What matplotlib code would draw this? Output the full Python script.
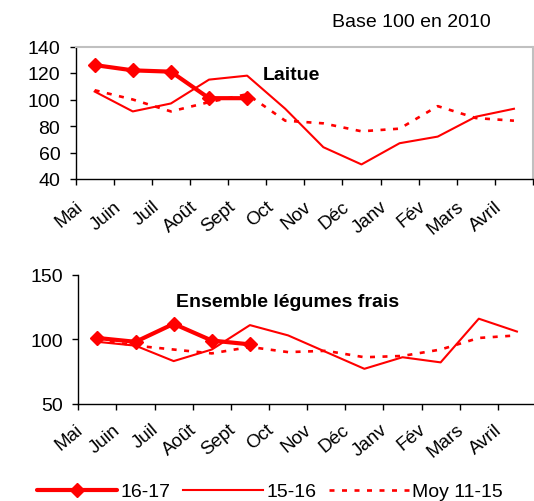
import matplotlib
matplotlib.use('Agg')
import matplotlib.pyplot as plt
import matplotlib.transforms as mtransforms
from matplotlib.lines import Line2D
import numpy as np

plt.rcParams['font.family'] = ['Liberation Sans', 'DejaVu Sans']
plt.rcParams['lines.scale_dashes'] = False

# ---------------- data ----------------
months = ['Mai', 'Juin', 'Juil', 'Août', 'Sept', 'Oct', 'Nov', 'Déc',
          'Janv', 'Fév', 'Mars', 'Avril']
series_names = ['16-17', '15-16', 'Moy 11-15']

laitue_1617 = [126, 122, 121, 101, 101]
laitue_1516 = [106, 91, 97, 115, 118, 93, 64, 51, 67, 72, 87, 93]
laitue_moy = [107, 100, 91, 98, 104, 84, 82, 76, 78, 95, 86, 84]

legumes_1617 = [101, 98, 112, 99, 96]
legumes_1516 = [98, 95, 83, 92, 111, 103, 90, 77, 86, 82, 116, 106]
legumes_moy = [100, 95, 92, 89, 94, 90, 91, 86, 87, 92, 101, 103]

laitue_yticks = [40, 60, 80, 100, 120, 140]
legumes_yticks = [50, 100, 150]

# ---------------- style ----------------
RED = '#FF0000'
W, H = 534, 502
FS = 14
FS_X = 13.5
fig = plt.figure(figsize=(W / 100, H / 100), dpi=100)


def ax_rect(x0, x1, ytop, ybot):
    return [x0 / W, 1 - ybot / H, (x1 - x0) / W, (ybot - ytop) / H]


ax1 = fig.add_axes(ax_rect(75.6, 533, 47.5, 180))
ax2 = fig.add_axes(ax_rect(78.3, 536, 276, 404.5))

thick = dict(color=RED, lw=3.0, marker='D', markersize=7, solid_capstyle='round',
             solid_joinstyle='round', zorder=5)
thin = dict(color=RED, lw=1.5, zorder=4)
dotted = dict(color=RED, lw=1.9, linestyle=(0, (3.6, 5.4)), zorder=3)


def draw(ax, s1617, s1516, smoy, yticks, gray_box, dx_lab, dy_lab):
    n = len(months)
    x = np.arange(n)
    ax.plot(x, smoy, **dotted)
    ax.plot(x, s1516, **thin)
    ax.plot(x[:len(s1617)], s1617, **thick)
    ax.set_xlim(-0.5, n - 0.5)
    ax.set_ylim(yticks[0], yticks[-1])
    ax.set_yticks(yticks)
    ax.set_xticks(np.arange(n + 1) - 0.5)
    ax.set_xticklabels([])
    ax.tick_params(axis='both', which='major', direction='out', length=4,
                   width=1, labelsize=FS, pad=7, colors='black')
    for s in ['left', 'bottom']:
        ax.spines[s].set_color('black')
        ax.spines[s].set_linewidth(1)
    if gray_box:
        for s in ['top', 'right']:
            ax.spines[s].set_color('#C0C0C0')
            ax.spines[s].set_linewidth(1.5)
    else:
        for s in ['top', 'right']:
            ax.spines[s].set_visible(False)
    trans = mtransforms.blended_transform_factory(ax.transData, ax.transAxes)
    off = mtransforms.ScaledTranslation(dx_lab / 100, -dy_lab / 100, fig.dpi_scale_trans)
    for i, m in enumerate(months):
        ax.text(i, 0, m, transform=trans + off, rotation=40, ha='right',
                va='center', rotation_mode='anchor', fontsize=FS_X)


draw(ax1, laitue_1617, laitue_1516, laitue_moy, laitue_yticks, True, -14, 25)
draw(ax2, legumes_1617, legumes_1516, legumes_moy, legumes_yticks, False, -17, 23.5)

fig.text(291.7 / W, 1 - 75 / H, 'Laitue', ha='center', va='center',
         fontsize=FS, fontweight='bold')
fig.text(287.5 / W, 1 - 302.6 / H, 'Ensemble légumes frais', ha='center',
         va='center', fontsize=FS, fontweight='bold')
fig.text(411 / W, 1 - 22.7 / H, 'Base 100 en 2010', ha='center', va='center',
         fontsize=FS)

handles = [Line2D([], [], **thick), Line2D([], [], **thin), Line2D([], [], **dotted)]
fig.legend(handles, series_names, loc='center left',
           bbox_to_anchor=(37.3 / W, 1 - 492.5 / H), ncol=3, frameon=False,
           fontsize=FS, handlelength=4.1, handletextpad=0.17, columnspacing=0.67,
           borderaxespad=0, borderpad=0, numpoints=1)

fig.savefig('out.png', dpi=100)
